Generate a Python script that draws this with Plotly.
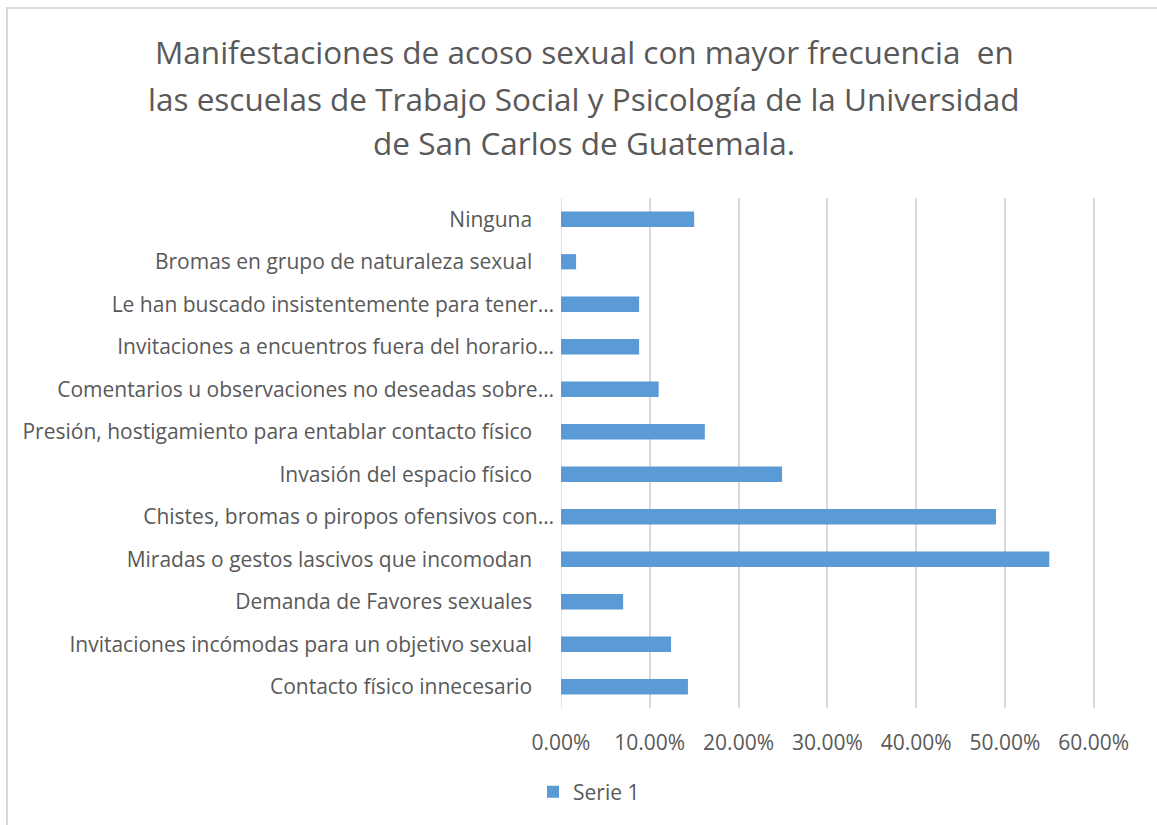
import plotly.graph_objects as go

# Data (bottom to top order as plotted)
categories = [
    "Contacto físico innecesario",
    "Invitaciones incómodas para un objetivo sexual",
    "Demanda de Favores sexuales",
    "Miradas o gestos lascivos que incomodan",
    "Chistes, bromas o piropos ofensivos con…",
    "Invasión del espacio físico",
    "Presión, hostigamiento para entablar contacto físico",
    "Comentarios u observaciones no deseadas sobre…",
    "Invitaciones a encuentros fuera del horario…",
    "Le han buscado insistentemente para tener…",
    "Bromas en grupo de naturaleza sexual",
    "Ninguna",
]
values = [0.143, 0.124, 0.070, 0.550, 0.490, 0.249, 0.162, 0.110, 0.088, 0.088, 0.017, 0.150]
tick_vals = [0, 0.1, 0.2, 0.3, 0.4, 0.5, 0.6]
tick_text = ["0.00%", "10.00%", "20.00%", "30.00%", "40.00%", "50.00%", "60.00%"]
series_name = "Serie 1"
title_lines = [
    "Manifestaciones de acoso sexual con mayor frecuencia  en",
    "las escuelas de Trabajo Social y Psicología de la Universidad",
    "de San Carlos de Guatemala.",
]

W, H = 1157, 825
L, R, T, B = 561, 62, 198, 117
pw, ph = W - L - R, H - T - B

def px_x(x):
    return (x - L) / pw

def px_y(y):
    return (H - B - y) / ph

FONT = "Open Sans, Lato, sans-serif"
GREY = "#595959"

labels = []
for c in categories:
    if c.endswith("…"):
        labels.append(c)
    else:
        labels.append(c + "\u00a0\u00a0\u00a0\u00a0")

fig = go.Figure()
fig.add_trace(go.Bar(
    y=labels, x=values, orientation="h", name=series_name,
    marker=dict(color="#5b9bd5", line=dict(width=0)),
    showlegend=True,
))

annotations = []
for i, (line, yp) in enumerate(zip(title_lines, [52, 98, 143])):
    annotations.append(dict(
        text=line, xref="paper", yref="paper", x=px_x(584), y=px_y(yp),
        xanchor="center", yanchor="middle", showarrow=False,
        font=dict(family=FONT, size=31.5, color=GREY),
    ))

fig.update_layout(
    width=W, height=H,
    margin=dict(l=L, r=R, t=T, b=B, autoexpand=False),
    paper_bgcolor="white", plot_bgcolor="white",
    bargap=0.64,
    annotations=annotations,
    font=dict(family=FONT, color=GREY),
    legend=dict(
        orientation="h", x=px_x(533), y=px_y(792), xanchor="left", yanchor="middle",
        font=dict(family=FONT, size=21, color=GREY),
        itemwidth=30,
    ),
    xaxis=dict(
        range=[0, 0.6015], tickvals=tick_vals, ticktext=tick_text,
        showgrid=True, gridcolor="#d9d9d9", gridwidth=1.5,
        zeroline=False, showline=False,
        tickfont=dict(family=FONT, size=21, color=GREY),
        ticks="", ticklabelstandoff=20,
    ),
    yaxis=dict(
        categoryorder="array", categoryarray=labels,
        showgrid=False, zeroline=False, showline=False,
        tickfont=dict(family=FONT, size=21, color=GREY),
        ticks="", ticklabelstandoff=6,
    ),
    shapes=[
        dict(type="rect", xref="paper", yref="paper",
             x0=px_x(7), x1=px_x(1170), y0=px_y(8), y1=px_y(840),
             line=dict(color="#d9d9d9", width=2), fillcolor="rgba(0,0,0,0)", layer="below"),
        dict(type="line", xref="x", yref="paper", x0=0, x1=0, y0=0, y1=1,
             line=dict(color="#d9d9d9", width=1.5), layer="below"),
    ],
)

fig.write_html(
    "out.html",
    config={"displayModeBar": False},
    post_script="document.body.style.margin='0';document.body.style.overflow='hidden';",
)
